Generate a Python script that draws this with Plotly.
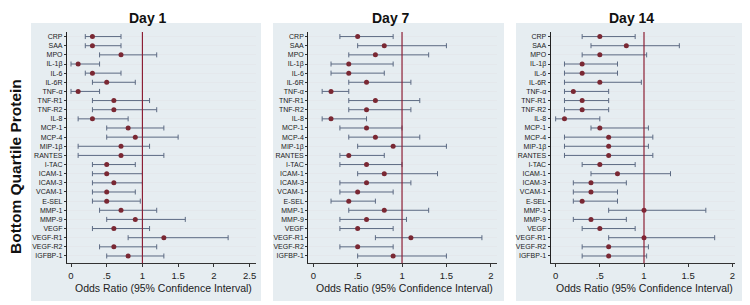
import plotly.graph_objects as go

proteins = ["CRP", "SAA", "MPO", "IL-1β", "IL-6", "IL-6R", "TNF-α", "TNF-R1", "TNF-R2",
            "IL-8", "MCP-1", "MCP-4", "MIP-1β", "RANTES", "I-TAC", "ICAM-1", "ICAM-3",
            "VCAM-1", "E-SEL", "MMP-1", "MMP-9", "VEGF", "VEGF-R1", "VEGF-R2", "IGFBP-1"]

day1_or = [0.3, 0.3, 0.7, 0.1, 0.3, 0.5, 0.1, 0.6, 0.6, 0.3, 0.8, 0.9, 0.7, 0.7,
           0.5, 0.5, 0.6, 0.5, 0.5, 0.7, 0.9, 0.6, 1.3, 0.6, 0.8]
day1_lo = [0.2, 0.2, 0.4, 0.0, 0.2, 0.3, 0.0, 0.3, 0.3, 0.1, 0.5, 0.5, 0.1, 0.1,
           0.3, 0.3, 0.3, 0.3, 0.3, 0.4, 0.5, 0.3, 0.8, 0.4, 0.5]
day1_hi = [0.7, 0.7, 1.2, 0.4, 0.7, 0.9, 0.4, 1.1, 1.2, 0.8, 1.3, 1.5, 1.1, 1.3,
           0.9, 1.0, 1.0, 0.9, 0.97, 1.2, 1.6, 1.1, 2.2, 1.2, 1.3]

day7_or = [0.5, 0.8, 0.7, 0.4, 0.4, 0.6, 0.2, 0.7, 0.6, 0.2, 0.6, 0.7, 0.9, 0.4,
           0.6, 0.8, 0.6, 0.5, 0.4, 0.8, 0.6, 0.5, 1.1, 0.5, 0.9]
day7_lo = [0.3, 0.5, 0.4, 0.2, 0.2, 0.4, 0.1, 0.4, 0.4, 0.1, 0.3, 0.4, 0.5, 0.3,
           0.3, 0.5, 0.3, 0.3, 0.2, 0.4, 0.3, 0.3, 0.7, 0.3, 0.5]
day7_hi = [0.9, 1.5, 1.3, 0.9, 0.8, 1.1, 0.4, 1.2, 1.1, 0.6, 1.0, 1.2, 1.5, 0.8,
           1.0, 1.4, 1.1, 0.9, 0.7, 1.3, 1.05, 0.9, 1.9, 0.9, 1.5]

day14_or = [0.5, 0.8, 0.5, 0.3, 0.3, 0.5, 0.2, 0.3, 0.3, 0.1, 0.5, 0.6, 0.6, 0.6,
            0.5, 0.7, 0.4, 0.4, 0.3, 1.0, 0.4, 0.5, 1.0, 0.6, 0.6]
day14_lo = [0.3, 0.4, 0.3, 0.1, 0.1, 0.1, 0.1, 0.1, 0.1, 0.0, 0.4, 0.1, 0.1, 0.1,
            0.3, 0.4, 0.2, 0.2, 0.2, 0.6, 0.2, 0.3, 0.6, 0.3, 0.3]
day14_hi = [0.9, 1.4, 1.03, 0.7, 0.7, 0.97, 0.6, 0.6, 0.6, 0.5, 1.05, 1.1, 1.05, 1.1,
            0.9, 1.3, 0.8, 0.7, 0.7, 1.7, 0.8, 0.9, 1.8, 1.05, 1.03]

panel_titles = ["Day 1", "Day 7", "Day 14"]
x_ticks = [[0, 0.5, 1, 1.5, 2, 2.5], [0, 0.5, 1, 1.5, 2], [0, 0.5, 1, 1.5, 2]]
x_tick_text = [["0", ".5", "1", "1.5", "2", "2.5"], ["0", ".5", "1", "1.5", "2"], ["0", ".5", "1", "1.5", "2"]]
x_ranges = [[-0.056, 2.59], [-0.056, 2.07], [-0.056, 2.03]]
ref_value = 1
x_title = "Odds Ratio (95% Confidence Interval)"
y_title = "Bottom Quartile Protein"

# page body has an 8px margin: keep the full 750x305 figure, shift content up/left
OFF = 8
W, H = 750, 305
plot_px = [(67, 256), (308.3, 497), (550.7, 735)]
panel_px = [(31, 261), (273, 504), (516, 743)]
plot_top, plot_bot = 32, 263.3
panel_top, panel_bot = 23, 301

def px_x(v):
    return (v - OFF) / W

def px_y(v):
    return 1 - (v - OFF) / H

days = [(day1_or, day1_lo, day1_hi), (day7_or, day7_lo, day7_hi), (day14_or, day14_lo, day14_hi)]

fig = go.Figure()
ci_color = "#5c6a83"
pt_color = "#7a2833"
red_line = "#8c1f35"
font_fam = "Liberation Sans, Arial, sans-serif"

shapes = []
annotations = []
for i, (orv, lo, hi) in enumerate(days):
    xa = "x" if i == 0 else f"x{i+1}"
    ya = "y" if i == 0 else f"y{i+1}"
    fig.add_trace(go.Scatter(
        x=orv, y=proteins, xaxis=xa, yaxis=ya, mode="markers",
        marker=dict(color=pt_color, size=5, symbol="circle"),
        error_x=dict(type="data", symmetric=False,
                     array=[h - o for h, o in zip(hi, orv)],
                     arrayminus=[o - l for o, l in zip(orv, lo)],
                     color=ci_color, thickness=1, width=2.5),
        showlegend=False, hoverinfo="skip", cliponaxis=False))
    shapes.append(dict(type="rect", xref="paper", yref="paper",
                       x0=px_x(panel_px[i][0]), x1=px_x(panel_px[i][1]),
                       y0=px_y(panel_bot), y1=px_y(panel_top),
                       fillcolor="#e6edf1", line=dict(width=0), layer="below"))
    shapes.append(dict(type="line", xref=xa, yref=f"{ya} domain",
                       x0=ref_value, x1=ref_value, y0=0, y1=1,
                       line=dict(color=red_line, width=1.2), layer="above"))
    dom = [px_x(plot_px[i][0]), px_x(plot_px[i][1])]
    ydom = [px_y(plot_bot), px_y(plot_top)]
    xkey = "xaxis" if i == 0 else f"xaxis{i+1}"
    ykey = "yaxis" if i == 0 else f"yaxis{i+1}"
    fig.update_layout(**{
        xkey: dict(domain=dom, anchor=ya, range=x_ranges[i],
                   tickmode="array", tickvals=x_ticks[i], ticktext=x_tick_text[i],
                   showgrid=False, zeroline=False, showline=True,
                   linecolor="#333333", linewidth=1, ticks="outside",
                   ticklen=3, tickcolor="#333333",
                   tickfont=dict(size=9.5, color="#222222", family=font_fam)),
        ykey: dict(domain=ydom, anchor=xa, type="category",
                   categoryorder="array", categoryarray=proteins,
                   tickmode="array", tickvals=proteins, ticktext=proteins,
                   range=[24.8, -0.5], showgrid=True, gridcolor="#e4e8ec",
                   gridwidth=1, zeroline=False, showline=True,
                   linecolor="#222222", linewidth=1.2, ticks="outside",
                   ticklen=2, tickcolor="#333333",
                   tickfont=dict(size=7, color="#222222", family=font_fam)),
    })
    annotations.append(dict(text=f"<b>{panel_titles[i]}</b>", xref="paper", yref="paper",
                            x=px_x((panel_px[i][0] + panel_px[i][1]) / 2 + 2),
                            y=px_y(8.5), xanchor="center", yanchor="top",
                            showarrow=False,
                            font=dict(size=14, color="#111111", family=font_fam)))
    annotations.append(dict(text=x_title, xref="paper", yref="paper",
                            x=px_x((plot_px[i][0] + plot_px[i][1]) / 2 + 2),
                            y=px_y(288), xanchor="center", yanchor="middle",
                            showarrow=False,
                            font=dict(size=10.5, color="#222222", family=font_fam)))

annotations.append(dict(text=f"<b>{y_title}</b>", xref="paper", yref="paper",
                        x=px_x(15), y=px_y(167), textangle=-90,
                        xanchor="center", yanchor="middle", showarrow=False,
                        font=dict(size=15.5, color="#111111", family=font_fam)))

fig.update_layout(width=W, height=H,
                  margin=dict(l=0, r=0, t=0, b=0),
                  paper_bgcolor="white", plot_bgcolor="white",
                  shapes=shapes, annotations=annotations,
                  font=dict(family=font_fam))

fig.write_html("out.html")
